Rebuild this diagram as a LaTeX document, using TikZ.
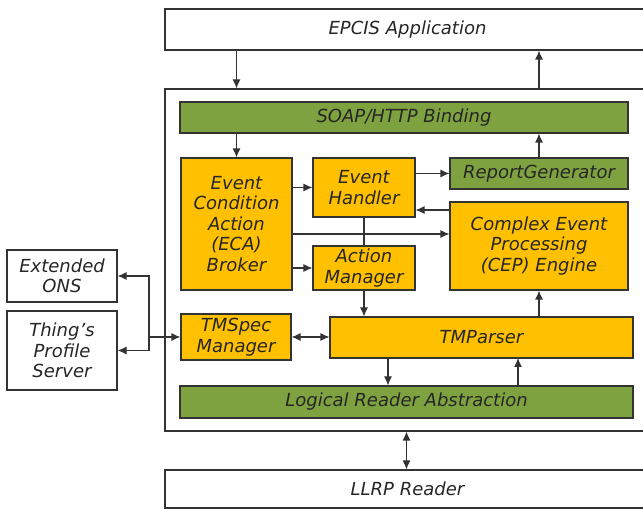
\documentclass[tikz,border=0pt]{standalone}
\usepackage{fontspec}
\setmainfont{DejaVu Sans}
\usetikzlibrary{arrows.meta, shadows}
\definecolor{boxorange}{HTML}{FFC000}
\definecolor{boxgreen}{HTML}{7FA241}
\definecolor{edge}{HTML}{333333}
\begin{document}
\begin{tikzpicture}[x=1pt, y=-1pt, line width=1.1pt, >={Latex[length=9pt,width=8pt]},
        box/.style = {draw=edge, inner sep=0pt, align=center, text=black!85,
                      font=\itshape\fontsize{18}{20.5}\selectfont},
        orange/.style = {box, fill=boxorange, drop shadow={shadow xshift=1.2pt, shadow yshift=-1.2pt, opacity=0.35}},
        green/.style = {box, fill=boxgreen, drop shadow={shadow xshift=1.2pt, shadow yshift=-1.2pt, opacity=0.35}},
        plain/.style = {box, fill=white}]
        \useasboundingbox (0,0) rectangle (643,510);
        \clip (0,0) rectangle (643,510);

        % outer layers
        \node[plain, minimum width=485, minimum height=41] (epcis) at (407.5,29.5) {EPCIS Application};
        \node[plain, minimum width=485, minimum height=342] (fw) at (407.5,260) {};
        \node[plain, minimum width=485, minimum height=38] (llrp) at (407.5,489) {LLRP Reader};

        % external services
        \node[plain, minimum width=110, minimum height=52] (ons) at (62,276) {Extended\\ONS};
        \node[plain, minimum width=110, minimum height=79] (tps) at (62,350.5) {Thing's\\Profile\\Server};

        % middleware blocks
        \node[green, minimum width=448, minimum height=31] (soap) at (404,117.5) {SOAP/HTTP Binding};
        \node[orange, minimum width=111, minimum height=132] (eca) at (236.5,224) {Event\\Condition\\Action\\(ECA)\\Broker};
        \node[orange, minimum width=102, minimum height=59] (eh) at (364,187.5) {Event\\Handler};
        \node[orange, minimum width=102, minimum height=44] (am) at (364,268) {Action\\Manager};
        \node[green, minimum width=178, minimum height=31] (rg) at (539,173.5) {ReportGenerator};
        \node[orange, minimum width=178, minimum height=88] (cep) at (539,246) {Complex Event\\Processing\\(CEP) Engine};
        \node[orange, minimum width=110, minimum height=46] (tms) at (236,337) {TMSpec\\Manager};
        \node[orange, minimum width=303, minimum height=41] (tmp) at (481.5,337.5) {TMParser};
        \node[green, minimum width=453, minimum height=32] (lra) at (406.5,402) {Logical Reader Abstraction};

        \coordinate (jn) at (149,337);
        \coordinate (ecaout) at (292,234);
        \coordinate (cepout) at (450,210);
        \coordinate (tmpdown) at (388,358);
        \coordinate (tmpup) at (518,358);

        \draw[->, edge] (epcis.south -| eca) -- (fw.north -| eca);
        \draw[->, edge] (fw.north -| rg) -- (epcis.south -| rg);
        \draw[->, edge] (soap.south -| eca) -- (eca.north);
        \draw[->, edge] (rg.north) -- (soap.south -| rg);
        \draw[->, edge] (eca.east |- eh) -- (eh.west);
        \draw[->, edge] (ecaout) -- (ecaout -| cep.west);
        \draw[->, edge] (eca.east |- am) -- (am.west);
        \draw[->, edge] (eh.east |- rg) -- (rg.west);
        \draw[->, edge] (cepout) -- (cepout -| eh.east);
        \draw[edge] (eh.south) -- (am.north);
        \draw[->, edge] (am.south) -- (am.south |- tmp.north);
        \draw[<->, edge] (tms.east) -- (tms.east -| tmp.west);
        \draw[->, edge] (tmp.north -| cep) -- (cep.south);
        \draw[->, edge] (tmpdown) -- (tmpdown |- lra.north);
        \draw[->, edge] (tmpup |- lra.north) -- (tmpup);
        \draw[<->, edge] (lra |- fw.south) -- (lra |- llrp.north);
        \draw[->, edge] (jn) -- (tms.west);
        \draw[->, edge] (jn) |- (ons.east);
        \draw[->, edge] (jn) |- (tps.east);
    \end{tikzpicture}
\end{document}
